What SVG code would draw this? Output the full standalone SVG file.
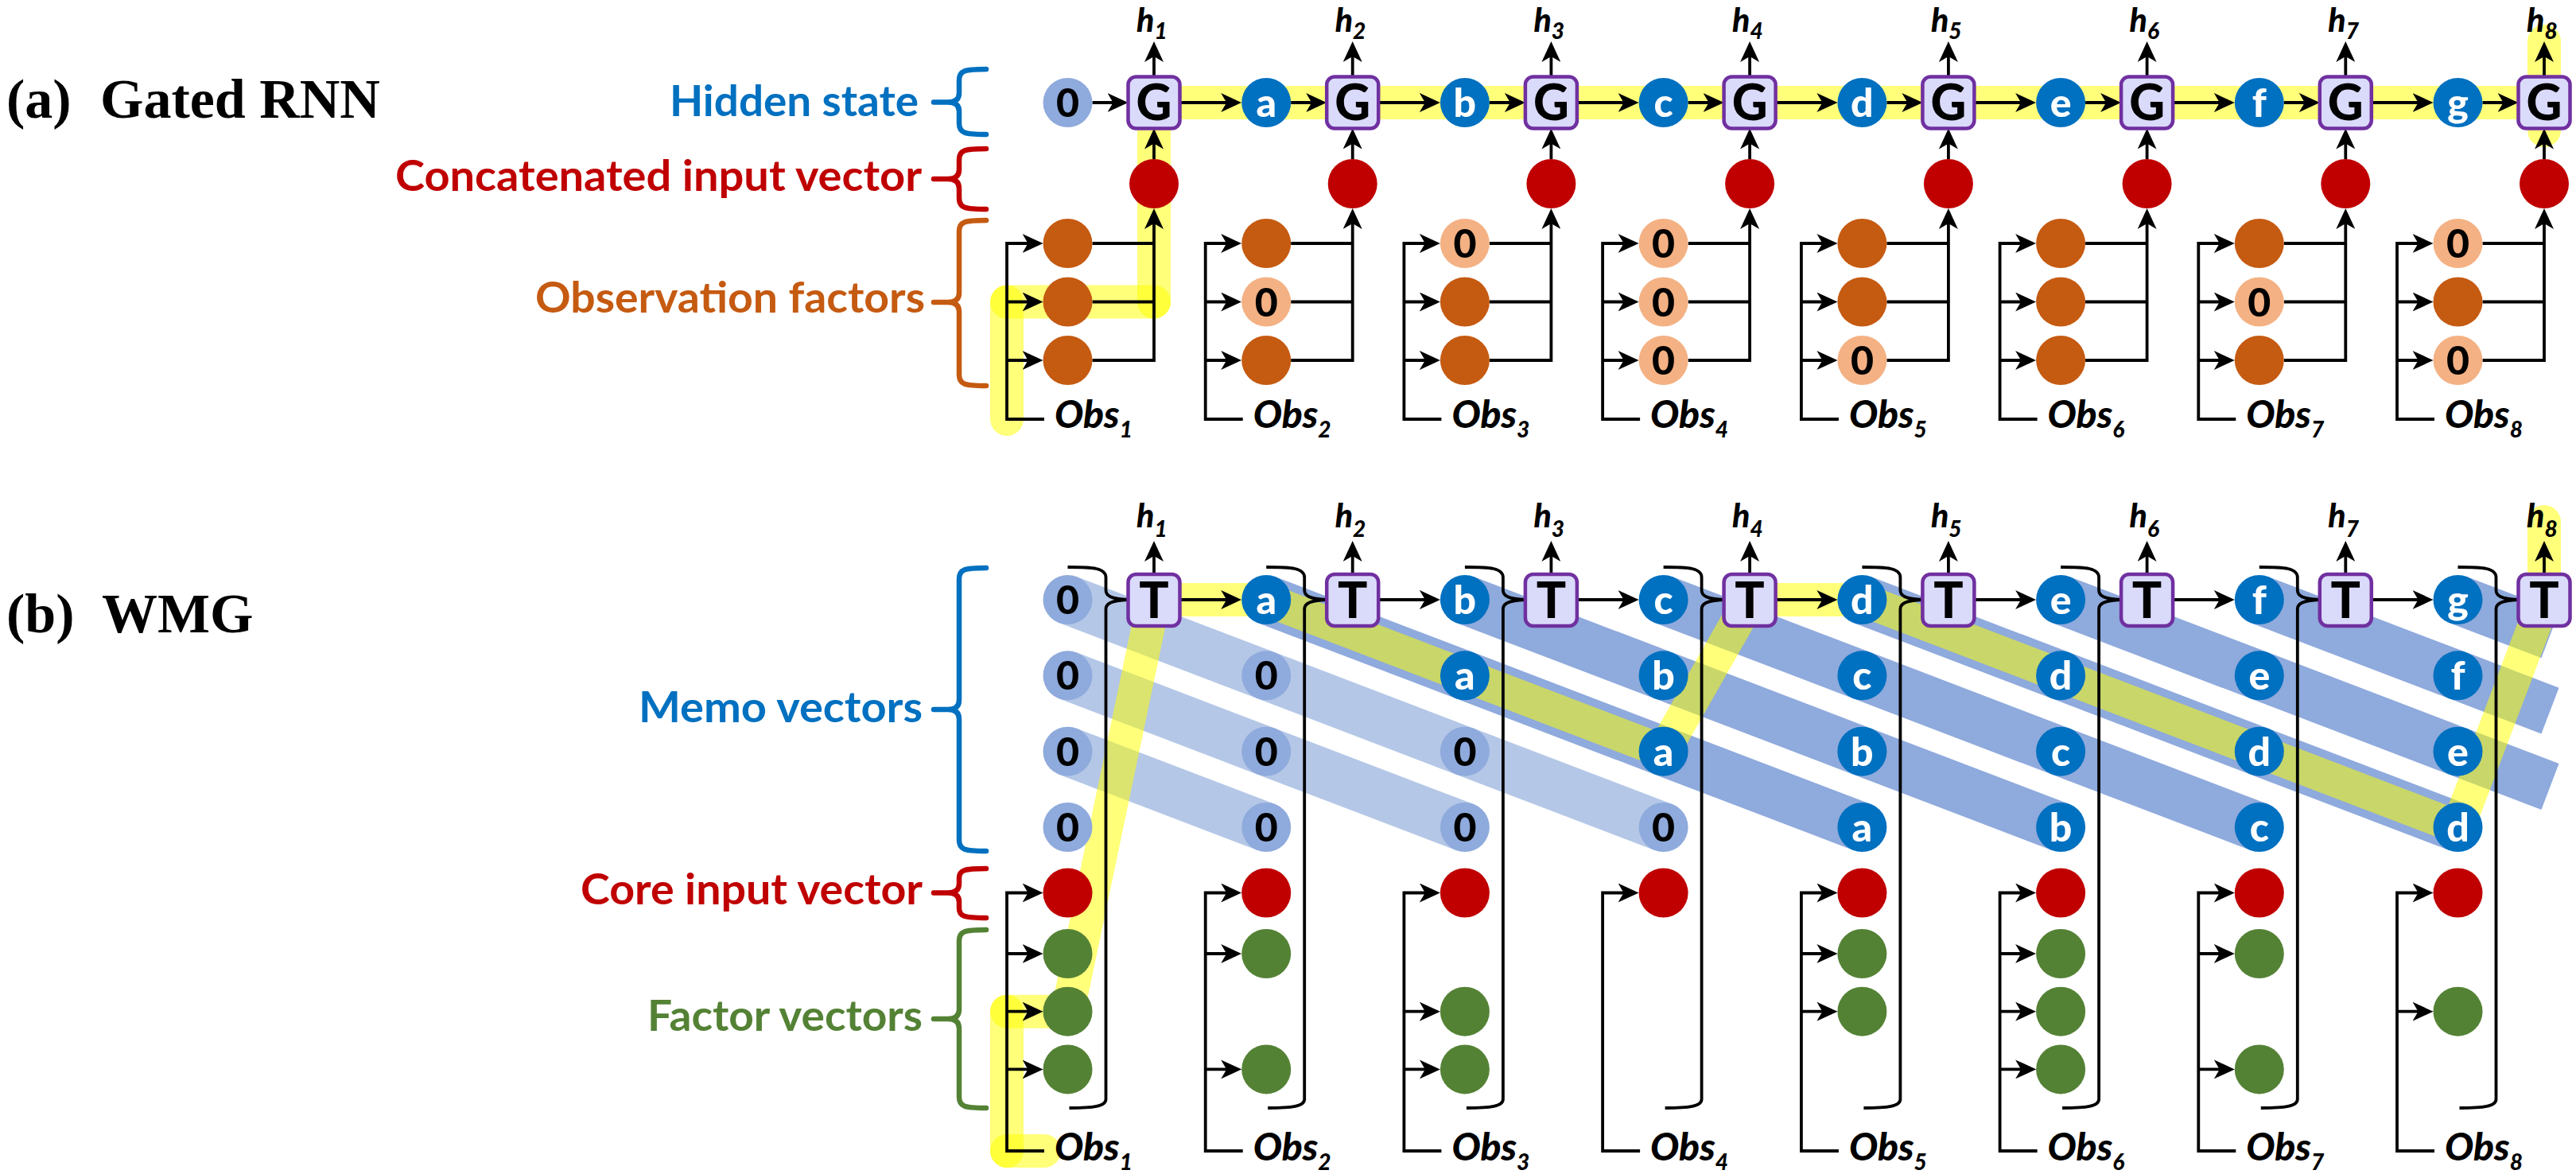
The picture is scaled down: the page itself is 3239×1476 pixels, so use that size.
<svg xmlns="http://www.w3.org/2000/svg" xmlns:xlink="http://www.w3.org/1999/xlink" width="3239" height="1476" viewBox="0 0 3239 1476">
<defs>
<style>
.ln{fill:none;stroke:#000;stroke-width:3.8}
.ar{marker-end:url(#ah)}
.yl{fill:none;stroke:#FFFF00;stroke-opacity:.52;stroke-width:42;stroke-linecap:round}
.bd{stroke:#8FAADC;stroke-width:62}
.bp{stroke:#B4C7E7;stroke-width:62}
.brc{fill:none;stroke-width:6.5;stroke-linecap:round;stroke-linejoin:round}
.z{fill:#8FAADC}.l{fill:#0070C0}.r{fill:#C00000}.od{fill:#C55A11}.ol{fill:#F4B183}.gn{fill:#548235}
.box{fill:#DADAFB;stroke:#7030A0;stroke-width:4.5}
.tz{font-family:Lato,'Liberation Sans',sans-serif;font-weight:900;font-size:50px;text-anchor:middle;fill:#000}
.tw{font-family:Lato,'Liberation Sans',sans-serif;font-weight:900;font-size:50px;text-anchor:middle;fill:#fff}
.tb{font-family:Lato,'Liberation Sans',sans-serif;font-weight:900;font-size:62px;text-anchor:middle;fill:#000}
.hl{font-family:Lato,'Liberation Sans',sans-serif;font-weight:900;font-style:italic;font-size:41px;fill:#000}
.ob{font-family:Lato,'Liberation Sans',sans-serif;font-weight:900;font-style:italic;font-size:48px;fill:#000}
.sb{font-size:28px}
.lab{font-family:Lato,'Liberation Sans',sans-serif;font-weight:700;font-size:54px}
.ttl{font-family:'Liberation Serif','Times New Roman',serif;font-weight:700;font-size:70px;fill:#000}
</style>
<marker id="ah" viewBox="0 0 26 24" refX="18" refY="12" markerWidth="26" markerHeight="24" orient="auto" markerUnits="userSpaceOnUse"><path d="M0,0 L26,12 L0,24 L7,12 Z" fill="#000"/></marker>
<path id="brk" class="ln" d="M0,713 C32,713 48,714 48,726 L48,742 C48,749 54,753 76,754 C54,755 48,759 48,766 L48,1382 C48,1391 32,1393 2,1393"/>
</defs>
<rect width="3239" height="1476" fill="#fff"/>

<g id="titles">
<text class="ttl" x="8" y="148">(a)<tspan x="126">Gated RNN</tspan></text>
<text class="ttl" x="8" y="795">(b)<tspan x="128">WMG</tspan></text>
</g>

<g id="labels">
<g id="lab-hidden"><text class="lab" x="842" y="146" fill="#0070C0" textLength="313" lengthAdjust="spacingAndGlyphs">Hidden state</text>
<path class="brc" stroke="#0070C0" d="M1240,87 C1212,87 1206,89 1206,101 L1206,117 Q1206,128.5 1192,128.5 L1174,128.5 M1192,128.5 Q1206,128.5 1206,140 L1206,155 C1206,167 1212,169 1240,169"/></g>
<g id="lab-concat"><text class="lab" x="497" y="240" fill="#C00000" textLength="662" lengthAdjust="spacingAndGlyphs">Concatenated input vector</text>
<path class="brc" stroke="#C00000" d="M1240,187 C1212,187 1206,189 1206,201 L1206,213 Q1206,225 1192,225 L1174,225 M1192,225 Q1206,225 1206,237 L1206,249 C1206,261 1212,263 1240,263"/></g>
<g id="lab-obsf"><text class="lab" x="673" y="393" fill="#C55A11" textLength="490" lengthAdjust="spacingAndGlyphs">Observation factors</text>
<path class="brc" stroke="#C55A11" d="M1240,277 C1212,277 1206,279 1206,291 L1206,368 Q1206,380 1192,380 L1174,380 M1192,380 Q1206,380 1206,392 L1206,471 C1206,483 1212,485 1240,485"/></g>
<g id="lab-memo"><text class="lab" x="803" y="908" fill="#0070C0" textLength="357" lengthAdjust="spacingAndGlyphs">Memo vectors</text>
<path class="brc" stroke="#0070C0" d="M1240,714 C1212,714 1206,716 1206,728 L1206,880 Q1206,892 1192,892 L1174,892 M1192,892 Q1206,892 1206,904 L1206,1056 C1206,1068 1212,1070 1240,1070"/></g>
<g id="lab-core"><text class="lab" x="730" y="1137" fill="#C00000" textLength="430" lengthAdjust="spacingAndGlyphs">Core input vector</text>
<path class="brc" stroke="#C00000" d="M1240,1092 C1212,1092 1206,1094 1206,1104 L1206,1111 Q1206,1122.5 1192,1122.5 L1174,1122.5 M1192,1122.5 Q1206,1122.5 1206,1134 L1206,1142 C1206,1152 1212,1154 1240,1154"/></g>
<g id="lab-factor"><text class="lab" x="814" y="1296" fill="#548235" textLength="346" lengthAdjust="spacingAndGlyphs">Factor vectors</text>
<path class="brc" stroke="#548235" d="M1240,1169 C1212,1169 1206,1171 1206,1183 L1206,1269 Q1206,1281 1192,1281 L1174,1281 M1192,1281 Q1206,1281 1206,1293 L1206,1379 C1206,1391 1212,1393 1240,1393"/></g>
</g>

<g id="memo-bands">
<line class="bp" x1="1342.5" y1="754" x2="1592.2" y2="849.3"/>
<line class="bp" x1="1342.5" y1="849.3" x2="1592.2" y2="944.7"/>
<line class="bp" x1="1342.5" y1="944.7" x2="1592.2" y2="1040"/>
<line class="bd" x1="1592.2" y1="754" x2="1841.9" y2="849.3"/>
<line class="bp" x1="1592.2" y1="849.3" x2="1841.9" y2="944.7"/>
<line class="bp" x1="1592.2" y1="944.7" x2="1841.9" y2="1040"/>
<line class="bd" x1="1841.9" y1="754" x2="2091.6" y2="849.3"/>
<line class="bd" x1="1841.9" y1="849.3" x2="2091.6" y2="944.7"/>
<line class="bp" x1="1841.9" y1="944.7" x2="2091.6" y2="1040"/>
<line class="bd" x1="2091.6" y1="754" x2="2341.4" y2="849.3"/>
<line class="bd" x1="2091.6" y1="849.3" x2="2341.4" y2="944.7"/>
<line class="bd" x1="2091.6" y1="944.7" x2="2341.4" y2="1040"/>
<line class="bd" x1="2341.4" y1="754" x2="2591.1" y2="849.3"/>
<line class="bd" x1="2341.4" y1="849.3" x2="2591.1" y2="944.7"/>
<line class="bd" x1="2341.4" y1="944.7" x2="2591.1" y2="1040"/>
<line class="bd" x1="2591.1" y1="754" x2="2840.8" y2="849.3"/>
<line class="bd" x1="2591.1" y1="849.3" x2="2840.8" y2="944.7"/>
<line class="bd" x1="2591.1" y1="944.7" x2="2840.8" y2="1040"/>
<line class="bd" x1="2840.8" y1="754" x2="3090.5" y2="849.3"/>
<line class="bd" x1="2840.8" y1="849.3" x2="3090.5" y2="944.7"/>
<line class="bd" x1="2840.8" y1="944.7" x2="3090.5" y2="1040"/>
<line class="bd" x1="3090.5" y1="754" x2="3206.5" y2="798.3"/>
<line class="bd" x1="3090.5" y1="849.3" x2="3206.5" y2="893.6"/>
<line class="bd" x1="3090.5" y1="944.7" x2="3206.5" y2="989"/>
</g>

<g id="highlight">
<line class="yl" x1="1266" y1="527" x2="1266" y2="379.5"/>
<line class="yl" x1="1266" y1="379.5" x2="1451" y2="379.5"/>
<line class="yl" x1="1451" y1="379.5" x2="1451" y2="129"/>
<line class="yl" x1="1451" y1="129" x2="3199" y2="129"/>
<line class="yl" x1="3199" y1="164" x2="3199" y2="52"/>
<line class="yl" x1="1266" y1="1447" x2="1313" y2="1447"/>
<line class="yl" x1="1266" y1="1447" x2="1266" y2="1271.7"/>
<line class="yl" x1="1266" y1="1271.7" x2="1342.5" y2="1271.7"/>
<line class="yl" x1="1342.5" y1="1271.7" x2="1451" y2="754"/>
<line class="yl" x1="1451" y1="754" x2="1592.2" y2="754"/>
<line class="yl" x1="1592.2" y1="754" x2="2091.6" y2="944.7"/>
<line class="yl" x1="2091.6" y1="944.7" x2="2200.1" y2="754"/>
<line class="yl" x1="2200.1" y1="754" x2="2341.4" y2="754"/>
<line class="yl" x1="2341.4" y1="754" x2="3090.5" y2="1040"/>
<line class="yl" x1="3090.5" y1="1040" x2="3199" y2="754"/>
<line class="yl" x1="3199" y1="754" x2="3199" y2="656"/>
</g>

<g id="connectors">
<!-- (a) hidden chain -->
<line class="ln ar" x1="1373.5" y1="129" x2="1410.5" y2="129"/>
<line class="ln ar" x1="1623.2" y1="129" x2="1660.2" y2="129"/>
<line class="ln ar" x1="1872.9" y1="129" x2="1909.9" y2="129"/>
<line class="ln ar" x1="2122.6" y1="129" x2="2159.6" y2="129"/>
<line class="ln ar" x1="2372.4" y1="129" x2="2409.4" y2="129"/>
<line class="ln ar" x1="2622.1" y1="129" x2="2659.1" y2="129"/>
<line class="ln ar" x1="2871.8" y1="129" x2="2908.8" y2="129"/>
<line class="ln ar" x1="3121.5" y1="129" x2="3158.5" y2="129"/>
<line class="ln ar" x1="1483.5" y1="129" x2="1553.2" y2="129"/>
<line class="ln ar" x1="1733.2" y1="129" x2="1802.9" y2="129"/>
<line class="ln ar" x1="1982.9" y1="129" x2="2052.6" y2="129"/>
<line class="ln ar" x1="2232.6" y1="129" x2="2302.4" y2="129"/>
<line class="ln ar" x1="2482.4" y1="129" x2="2552.1" y2="129"/>
<line class="ln ar" x1="2732.1" y1="129" x2="2801.8" y2="129"/>
<line class="ln ar" x1="2981.8" y1="129" x2="3051.5" y2="129"/>
<!-- (a) outputs h -->
<line class="ln ar" x1="1451" y1="96.5" x2="1451" y2="60"/>
<line class="ln ar" x1="1700.7" y1="96.5" x2="1700.7" y2="60"/>
<line class="ln ar" x1="1950.4" y1="96.5" x2="1950.4" y2="60"/>
<line class="ln ar" x1="2200.1" y1="96.5" x2="2200.1" y2="60"/>
<line class="ln ar" x1="2449.9" y1="96.5" x2="2449.9" y2="60"/>
<line class="ln ar" x1="2699.6" y1="96.5" x2="2699.6" y2="60"/>
<line class="ln ar" x1="2949.3" y1="96.5" x2="2949.3" y2="60"/>
<line class="ln ar" x1="3199" y1="96.5" x2="3199" y2="60"/>
<!-- (a) concatenated -> G -->
<line class="ln ar" x1="1451" y1="200" x2="1451" y2="169.5"/>
<line class="ln ar" x1="1700.7" y1="200" x2="1700.7" y2="169.5"/>
<line class="ln ar" x1="1950.4" y1="200" x2="1950.4" y2="169.5"/>
<line class="ln ar" x1="2200.1" y1="200" x2="2200.1" y2="169.5"/>
<line class="ln ar" x1="2449.9" y1="200" x2="2449.9" y2="169.5"/>
<line class="ln ar" x1="2699.6" y1="200" x2="2699.6" y2="169.5"/>
<line class="ln ar" x1="2949.3" y1="200" x2="2949.3" y2="169.5"/>
<line class="ln ar" x1="3199" y1="200" x2="3199" y2="169.5"/>
<!-- (a) factors -> concatenated -->
<path class="ln ar" d="M1373.5,306 H1451 M1373.5,379.5 H1451 M1373.5,453 H1451 V270"/>
<path class="ln ar" d="M1623.2,306 H1700.7 M1623.2,379.5 H1700.7 M1623.2,453 H1700.7 V270"/>
<path class="ln ar" d="M1872.9,306 H1950.4 M1872.9,379.5 H1950.4 M1872.9,453 H1950.4 V270"/>
<path class="ln ar" d="M2122.6,306 H2200.1 M2122.6,379.5 H2200.1 M2122.6,453 H2200.1 V270"/>
<path class="ln ar" d="M2372.4,306 H2449.9 M2372.4,379.5 H2449.9 M2372.4,453 H2449.9 V270"/>
<path class="ln ar" d="M2622.1,306 H2699.6 M2622.1,379.5 H2699.6 M2622.1,453 H2699.6 V270"/>
<path class="ln ar" d="M2871.8,306 H2949.3 M2871.8,379.5 H2949.3 M2871.8,453 H2949.3 V270"/>
<path class="ln ar" d="M3121.5,306 H3199 M3121.5,379.5 H3199 M3121.5,453 H3199 V270"/>
<!-- (a) Obs -> factors -->
<path class="ln ar" d="M1313,527 H1266 V306 H1303.5"/><line class="ln ar" x1="1266" y1="379.5" x2="1303.5" y2="379.5"/><line class="ln ar" x1="1266" y1="453" x2="1303.5" y2="453"/>
<path class="ln ar" d="M1562.7,527 H1515.7 V306 H1553.2"/><line class="ln ar" x1="1515.7" y1="379.5" x2="1553.2" y2="379.5"/><line class="ln ar" x1="1515.7" y1="453" x2="1553.2" y2="453"/>
<path class="ln ar" d="M1812.4,527 H1765.4 V306 H1802.9"/><line class="ln ar" x1="1765.4" y1="379.5" x2="1802.9" y2="379.5"/><line class="ln ar" x1="1765.4" y1="453" x2="1802.9" y2="453"/>
<path class="ln ar" d="M2062.1,527 H2015.1 V306 H2052.6"/><line class="ln ar" x1="2015.1" y1="379.5" x2="2052.6" y2="379.5"/><line class="ln ar" x1="2015.1" y1="453" x2="2052.6" y2="453"/>
<path class="ln ar" d="M2311.9,527 H2264.9 V306 H2302.4"/><line class="ln ar" x1="2264.9" y1="379.5" x2="2302.4" y2="379.5"/><line class="ln ar" x1="2264.9" y1="453" x2="2302.4" y2="453"/>
<path class="ln ar" d="M2561.6,527 H2514.6 V306 H2552.1"/><line class="ln ar" x1="2514.6" y1="379.5" x2="2552.1" y2="379.5"/><line class="ln ar" x1="2514.6" y1="453" x2="2552.1" y2="453"/>
<path class="ln ar" d="M2811.3,527 H2764.3 V306 H2801.8"/><line class="ln ar" x1="2764.3" y1="379.5" x2="2801.8" y2="379.5"/><line class="ln ar" x1="2764.3" y1="453" x2="2801.8" y2="453"/>
<path class="ln ar" d="M3061,527 H3014 V306 H3051.5"/><line class="ln ar" x1="3014" y1="379.5" x2="3051.5" y2="379.5"/><line class="ln ar" x1="3014" y1="453" x2="3051.5" y2="453"/>

<!-- (b) T -> next memo -->
<line class="ln ar" x1="1483.5" y1="754" x2="1553.2" y2="754"/>
<line class="ln ar" x1="1733.2" y1="754" x2="1802.9" y2="754"/>
<line class="ln ar" x1="1982.9" y1="754" x2="2052.6" y2="754"/>
<line class="ln ar" x1="2232.6" y1="754" x2="2302.4" y2="754"/>
<line class="ln ar" x1="2482.4" y1="754" x2="2552.1" y2="754"/>
<line class="ln ar" x1="2732.1" y1="754" x2="2801.8" y2="754"/>
<line class="ln ar" x1="2981.8" y1="754" x2="3051.5" y2="754"/>
<!-- (b) outputs h -->
<line class="ln ar" x1="1451" y1="722" x2="1451" y2="688"/>
<line class="ln ar" x1="1700.7" y1="722" x2="1700.7" y2="688"/>
<line class="ln ar" x1="1950.4" y1="722" x2="1950.4" y2="688"/>
<line class="ln ar" x1="2200.1" y1="722" x2="2200.1" y2="688"/>
<line class="ln ar" x1="2449.9" y1="722" x2="2449.9" y2="688"/>
<line class="ln ar" x1="2699.6" y1="722" x2="2699.6" y2="688"/>
<line class="ln ar" x1="2949.3" y1="722" x2="2949.3" y2="688"/>
<line class="ln ar" x1="3199" y1="722" x2="3199" y2="688"/>
<!-- (b) braces into T -->
<use href="#brk" xlink:href="#brk" x="1342.5"/>
<use href="#brk" xlink:href="#brk" x="1592.2"/>
<use href="#brk" xlink:href="#brk" x="1841.9"/>
<use href="#brk" xlink:href="#brk" x="2091.6"/>
<use href="#brk" xlink:href="#brk" x="2341.4"/>
<use href="#brk" xlink:href="#brk" x="2591.1"/>
<use href="#brk" xlink:href="#brk" x="2840.8"/>
<use href="#brk" xlink:href="#brk" x="3090.5"/>
<!-- (b) Obs -> core/factor -->
<path class="ln ar" d="M1313,1447 H1266 V1122.5 H1303.5"/><line class="ln ar" x1="1266" y1="1199" x2="1303.5" y2="1199"/><line class="ln ar" x1="1266" y1="1271.7" x2="1303.5" y2="1271.7"/><line class="ln ar" x1="1266" y1="1344.4" x2="1303.5" y2="1344.4"/>
<path class="ln ar" d="M1562.7,1447 H1515.7 V1122.5 H1553.2"/><line class="ln ar" x1="1515.7" y1="1199" x2="1553.2" y2="1199"/><line class="ln ar" x1="1515.7" y1="1344.4" x2="1553.2" y2="1344.4"/>
<path class="ln ar" d="M1812.4,1447 H1765.4 V1122.5 H1802.9"/><line class="ln ar" x1="1765.4" y1="1271.7" x2="1802.9" y2="1271.7"/><line class="ln ar" x1="1765.4" y1="1344.4" x2="1802.9" y2="1344.4"/>
<path class="ln ar" d="M2062.1,1447 H2015.1 V1122.5 H2052.6"/>
<path class="ln ar" d="M2311.9,1447 H2264.9 V1122.5 H2302.4"/><line class="ln ar" x1="2264.9" y1="1199" x2="2302.4" y2="1199"/><line class="ln ar" x1="2264.9" y1="1271.7" x2="2302.4" y2="1271.7"/>
<path class="ln ar" d="M2561.6,1447 H2514.6 V1122.5 H2552.1"/><line class="ln ar" x1="2514.6" y1="1199" x2="2552.1" y2="1199"/><line class="ln ar" x1="2514.6" y1="1271.7" x2="2552.1" y2="1271.7"/><line class="ln ar" x1="2514.6" y1="1344.4" x2="2552.1" y2="1344.4"/>
<path class="ln ar" d="M2811.3,1447 H2764.3 V1122.5 H2801.8"/><line class="ln ar" x1="2764.3" y1="1199" x2="2801.8" y2="1199"/><line class="ln ar" x1="2764.3" y1="1344.4" x2="2801.8" y2="1344.4"/>
<path class="ln ar" d="M3061,1447 H3014 V1122.5 H3051.5"/><line class="ln ar" x1="3014" y1="1271.7" x2="3051.5" y2="1271.7"/>
</g>

<g id="nodes-a">
<g id="a-h1"><circle cx="1342.5" cy="129" r="31" class="z"/><text x="1342.5" y="147" class="tz">0</text></g>
<g id="a-h2"><circle cx="1592.2" cy="129" r="31" class="l"/><text x="1592.2" y="147" class="tw">a</text></g>
<g id="a-h3"><circle cx="1841.9" cy="129" r="31" class="l"/><text x="1841.9" y="147" class="tw">b</text></g>
<g id="a-h4"><circle cx="2091.6" cy="129" r="31" class="l"/><text x="2091.6" y="147" class="tw">c</text></g>
<g id="a-h5"><circle cx="2341.4" cy="129" r="31" class="l"/><text x="2341.4" y="147" class="tw">d</text></g>
<g id="a-h6"><circle cx="2591.1" cy="129" r="31" class="l"/><text x="2591.1" y="147" class="tw">e</text></g>
<g id="a-h7"><circle cx="2840.8" cy="129" r="31" class="l"/><text x="2840.8" y="147" class="tw">f</text></g>
<g id="a-h8"><circle cx="3090.5" cy="129" r="31" class="l"/><text x="3090.5" y="147" class="tw">g</text></g>

<g id="a-G1"><rect x="1418.5" y="96.5" width="65" height="65" rx="10" class="box"/><text x="1451" y="151" class="tb">G</text><text x="1429" y="40" class="hl">h<tspan class="sb" dy="9">1</tspan></text></g>
<g id="a-G2"><rect x="1668.2" y="96.5" width="65" height="65" rx="10" class="box"/><text x="1700.7" y="151" class="tb">G</text><text x="1678.7" y="40" class="hl">h<tspan class="sb" dy="9">2</tspan></text></g>
<g id="a-G3"><rect x="1917.9" y="96.5" width="65" height="65" rx="10" class="box"/><text x="1950.4" y="151" class="tb">G</text><text x="1928.4" y="40" class="hl">h<tspan class="sb" dy="9">3</tspan></text></g>
<g id="a-G4"><rect x="2167.6" y="96.5" width="65" height="65" rx="10" class="box"/><text x="2200.1" y="151" class="tb">G</text><text x="2178.1" y="40" class="hl">h<tspan class="sb" dy="9">4</tspan></text></g>
<g id="a-G5"><rect x="2417.4" y="96.5" width="65" height="65" rx="10" class="box"/><text x="2449.9" y="151" class="tb">G</text><text x="2427.9" y="40" class="hl">h<tspan class="sb" dy="9">5</tspan></text></g>
<g id="a-G6"><rect x="2667.1" y="96.5" width="65" height="65" rx="10" class="box"/><text x="2699.6" y="151" class="tb">G</text><text x="2677.6" y="40" class="hl">h<tspan class="sb" dy="9">6</tspan></text></g>
<g id="a-G7"><rect x="2916.8" y="96.5" width="65" height="65" rx="10" class="box"/><text x="2949.3" y="151" class="tb">G</text><text x="2927.3" y="40" class="hl">h<tspan class="sb" dy="9">7</tspan></text></g>
<g id="a-G8"><rect x="3166.5" y="96.5" width="65" height="65" rx="10" class="box"/><text x="3199" y="151" class="tb">G</text><text x="3177" y="40" class="hl">h<tspan class="sb" dy="9">8</tspan></text></g>

<g id="a-in1"><circle cx="1451" cy="231" r="31" class="r"/></g>
<g id="a-in2"><circle cx="1700.7" cy="231" r="31" class="r"/></g>
<g id="a-in3"><circle cx="1950.4" cy="231" r="31" class="r"/></g>
<g id="a-in4"><circle cx="2200.1" cy="231" r="31" class="r"/></g>
<g id="a-in5"><circle cx="2449.9" cy="231" r="31" class="r"/></g>
<g id="a-in6"><circle cx="2699.6" cy="231" r="31" class="r"/></g>
<g id="a-in7"><circle cx="2949.3" cy="231" r="31" class="r"/></g>
<g id="a-in8"><circle cx="3199" cy="231" r="31" class="r"/></g>

<g id="a-obs1"><circle cx="1342.5" cy="306" r="31" class="od"/><circle cx="1342.5" cy="379.5" r="31" class="od"/><circle cx="1342.5" cy="453" r="31" class="od"/><text x="1326" y="538" class="ob">Obs<tspan class="sb" dy="12">1</tspan></text></g>
<g id="a-obs2"><circle cx="1592.2" cy="306" r="31" class="od"/><circle cx="1592.2" cy="379.5" r="31" class="ol"/><text x="1592.2" y="397.5" class="tz">0</text><circle cx="1592.2" cy="453" r="31" class="od"/><text x="1575.7" y="538" class="ob">Obs<tspan class="sb" dy="12">2</tspan></text></g>
<g id="a-obs3"><circle cx="1841.9" cy="306" r="31" class="ol"/><text x="1841.9" y="324" class="tz">0</text><circle cx="1841.9" cy="379.5" r="31" class="od"/><circle cx="1841.9" cy="453" r="31" class="od"/><text x="1825.4" y="538" class="ob">Obs<tspan class="sb" dy="12">3</tspan></text></g>
<g id="a-obs4"><circle cx="2091.6" cy="306" r="31" class="ol"/><text x="2091.6" y="324" class="tz">0</text><circle cx="2091.6" cy="379.5" r="31" class="ol"/><text x="2091.6" y="397.5" class="tz">0</text><circle cx="2091.6" cy="453" r="31" class="ol"/><text x="2091.6" y="471" class="tz">0</text><text x="2075.1" y="538" class="ob">Obs<tspan class="sb" dy="12">4</tspan></text></g>
<g id="a-obs5"><circle cx="2341.4" cy="306" r="31" class="od"/><circle cx="2341.4" cy="379.5" r="31" class="od"/><circle cx="2341.4" cy="453" r="31" class="ol"/><text x="2341.4" y="471" class="tz">0</text><text x="2324.9" y="538" class="ob">Obs<tspan class="sb" dy="12">5</tspan></text></g>
<g id="a-obs6"><circle cx="2591.1" cy="306" r="31" class="od"/><circle cx="2591.1" cy="379.5" r="31" class="od"/><circle cx="2591.1" cy="453" r="31" class="od"/><text x="2574.6" y="538" class="ob">Obs<tspan class="sb" dy="12">6</tspan></text></g>
<g id="a-obs7"><circle cx="2840.8" cy="306" r="31" class="od"/><circle cx="2840.8" cy="379.5" r="31" class="ol"/><text x="2840.8" y="397.5" class="tz">0</text><circle cx="2840.8" cy="453" r="31" class="od"/><text x="2824.3" y="538" class="ob">Obs<tspan class="sb" dy="12">7</tspan></text></g>
<g id="a-obs8"><circle cx="3090.5" cy="306" r="31" class="ol"/><text x="3090.5" y="324" class="tz">0</text><circle cx="3090.5" cy="379.5" r="31" class="od"/><circle cx="3090.5" cy="453" r="31" class="ol"/><text x="3090.5" y="471" class="tz">0</text><text x="3074" y="538" class="ob">Obs<tspan class="sb" dy="12">8</tspan></text></g>
</g>

<g id="nodes-b">
<g id="b-m1"><circle cx="1342.5" cy="754" r="31" class="z"/><text x="1342.5" y="772" class="tz">0</text><circle cx="1342.5" cy="849.3" r="31" class="z"/><text x="1342.5" y="867.3" class="tz">0</text><circle cx="1342.5" cy="944.7" r="31" class="z"/><text x="1342.5" y="962.7" class="tz">0</text><circle cx="1342.5" cy="1040" r="31" class="z"/><text x="1342.5" y="1058" class="tz">0</text></g>
<g id="b-m2"><circle cx="1592.2" cy="754" r="31" class="l"/><text x="1592.2" y="772" class="tw">a</text><circle cx="1592.2" cy="849.3" r="31" class="z"/><text x="1592.2" y="867.3" class="tz">0</text><circle cx="1592.2" cy="944.7" r="31" class="z"/><text x="1592.2" y="962.7" class="tz">0</text><circle cx="1592.2" cy="1040" r="31" class="z"/><text x="1592.2" y="1058" class="tz">0</text></g>
<g id="b-m3"><circle cx="1841.9" cy="754" r="31" class="l"/><text x="1841.9" y="772" class="tw">b</text><circle cx="1841.9" cy="849.3" r="31" class="l"/><text x="1841.9" y="867.3" class="tw">a</text><circle cx="1841.9" cy="944.7" r="31" class="z"/><text x="1841.9" y="962.7" class="tz">0</text><circle cx="1841.9" cy="1040" r="31" class="z"/><text x="1841.9" y="1058" class="tz">0</text></g>
<g id="b-m4"><circle cx="2091.6" cy="754" r="31" class="l"/><text x="2091.6" y="772" class="tw">c</text><circle cx="2091.6" cy="849.3" r="31" class="l"/><text x="2091.6" y="867.3" class="tw">b</text><circle cx="2091.6" cy="944.7" r="31" class="l"/><text x="2091.6" y="962.7" class="tw">a</text><circle cx="2091.6" cy="1040" r="31" class="z"/><text x="2091.6" y="1058" class="tz">0</text></g>
<g id="b-m5"><circle cx="2341.4" cy="754" r="31" class="l"/><text x="2341.4" y="772" class="tw">d</text><circle cx="2341.4" cy="849.3" r="31" class="l"/><text x="2341.4" y="867.3" class="tw">c</text><circle cx="2341.4" cy="944.7" r="31" class="l"/><text x="2341.4" y="962.7" class="tw">b</text><circle cx="2341.4" cy="1040" r="31" class="l"/><text x="2341.4" y="1058" class="tw">a</text></g>
<g id="b-m6"><circle cx="2591.1" cy="754" r="31" class="l"/><text x="2591.1" y="772" class="tw">e</text><circle cx="2591.1" cy="849.3" r="31" class="l"/><text x="2591.1" y="867.3" class="tw">d</text><circle cx="2591.1" cy="944.7" r="31" class="l"/><text x="2591.1" y="962.7" class="tw">c</text><circle cx="2591.1" cy="1040" r="31" class="l"/><text x="2591.1" y="1058" class="tw">b</text></g>
<g id="b-m7"><circle cx="2840.8" cy="754" r="31" class="l"/><text x="2840.8" y="772" class="tw">f</text><circle cx="2840.8" cy="849.3" r="31" class="l"/><text x="2840.8" y="867.3" class="tw">e</text><circle cx="2840.8" cy="944.7" r="31" class="l"/><text x="2840.8" y="962.7" class="tw">d</text><circle cx="2840.8" cy="1040" r="31" class="l"/><text x="2840.8" y="1058" class="tw">c</text></g>
<g id="b-m8"><circle cx="3090.5" cy="754" r="31" class="l"/><text x="3090.5" y="772" class="tw">g</text><circle cx="3090.5" cy="849.3" r="31" class="l"/><text x="3090.5" y="867.3" class="tw">f</text><circle cx="3090.5" cy="944.7" r="31" class="l"/><text x="3090.5" y="962.7" class="tw">e</text><circle cx="3090.5" cy="1040" r="31" class="l"/><text x="3090.5" y="1058" class="tw">d</text></g>

<g id="b-T1"><rect x="1418.5" y="722" width="65" height="65" rx="10" class="box"/><text x="1451" y="777" class="tb">T</text><text x="1429" y="663" class="hl">h<tspan class="sb" dy="12">1</tspan></text></g>
<g id="b-T2"><rect x="1668.2" y="722" width="65" height="65" rx="10" class="box"/><text x="1700.7" y="777" class="tb">T</text><text x="1678.7" y="663" class="hl">h<tspan class="sb" dy="12">2</tspan></text></g>
<g id="b-T3"><rect x="1917.9" y="722" width="65" height="65" rx="10" class="box"/><text x="1950.4" y="777" class="tb">T</text><text x="1928.4" y="663" class="hl">h<tspan class="sb" dy="12">3</tspan></text></g>
<g id="b-T4"><rect x="2167.6" y="722" width="65" height="65" rx="10" class="box"/><text x="2200.1" y="777" class="tb">T</text><text x="2178.1" y="663" class="hl">h<tspan class="sb" dy="12">4</tspan></text></g>
<g id="b-T5"><rect x="2417.4" y="722" width="65" height="65" rx="10" class="box"/><text x="2449.9" y="777" class="tb">T</text><text x="2427.9" y="663" class="hl">h<tspan class="sb" dy="12">5</tspan></text></g>
<g id="b-T6"><rect x="2667.1" y="722" width="65" height="65" rx="10" class="box"/><text x="2699.6" y="777" class="tb">T</text><text x="2677.6" y="663" class="hl">h<tspan class="sb" dy="12">6</tspan></text></g>
<g id="b-T7"><rect x="2916.8" y="722" width="65" height="65" rx="10" class="box"/><text x="2949.3" y="777" class="tb">T</text><text x="2927.3" y="663" class="hl">h<tspan class="sb" dy="12">7</tspan></text></g>
<g id="b-T8"><rect x="3166.5" y="722" width="65" height="65" rx="10" class="box"/><text x="3199" y="777" class="tb">T</text><text x="3177" y="663" class="hl">h<tspan class="sb" dy="12">8</tspan></text></g>

<g id="b-obs1"><circle cx="1342.5" cy="1122.5" r="31" class="r"/><circle cx="1342.5" cy="1199" r="31" class="gn"/><circle cx="1342.5" cy="1271.7" r="31" class="gn"/><circle cx="1342.5" cy="1344.4" r="31" class="gn"/><text x="1326" y="1459" class="ob">Obs<tspan class="sb" dy="12">1</tspan></text></g>
<g id="b-obs2"><circle cx="1592.2" cy="1122.5" r="31" class="r"/><circle cx="1592.2" cy="1199" r="31" class="gn"/><circle cx="1592.2" cy="1344.4" r="31" class="gn"/><text x="1575.7" y="1459" class="ob">Obs<tspan class="sb" dy="12">2</tspan></text></g>
<g id="b-obs3"><circle cx="1841.9" cy="1122.5" r="31" class="r"/><circle cx="1841.9" cy="1271.7" r="31" class="gn"/><circle cx="1841.9" cy="1344.4" r="31" class="gn"/><text x="1825.4" y="1459" class="ob">Obs<tspan class="sb" dy="12">3</tspan></text></g>
<g id="b-obs4"><circle cx="2091.6" cy="1122.5" r="31" class="r"/><text x="2075.1" y="1459" class="ob">Obs<tspan class="sb" dy="12">4</tspan></text></g>
<g id="b-obs5"><circle cx="2341.4" cy="1122.5" r="31" class="r"/><circle cx="2341.4" cy="1199" r="31" class="gn"/><circle cx="2341.4" cy="1271.7" r="31" class="gn"/><text x="2324.9" y="1459" class="ob">Obs<tspan class="sb" dy="12">5</tspan></text></g>
<g id="b-obs6"><circle cx="2591.1" cy="1122.5" r="31" class="r"/><circle cx="2591.1" cy="1199" r="31" class="gn"/><circle cx="2591.1" cy="1271.7" r="31" class="gn"/><circle cx="2591.1" cy="1344.4" r="31" class="gn"/><text x="2574.6" y="1459" class="ob">Obs<tspan class="sb" dy="12">6</tspan></text></g>
<g id="b-obs7"><circle cx="2840.8" cy="1122.5" r="31" class="r"/><circle cx="2840.8" cy="1199" r="31" class="gn"/><circle cx="2840.8" cy="1344.4" r="31" class="gn"/><text x="2824.3" y="1459" class="ob">Obs<tspan class="sb" dy="12">7</tspan></text></g>
<g id="b-obs8"><circle cx="3090.5" cy="1122.5" r="31" class="r"/><circle cx="3090.5" cy="1271.7" r="31" class="gn"/><text x="3074" y="1459" class="ob">Obs<tspan class="sb" dy="12">8</tspan></text></g>
</g>
</svg>
